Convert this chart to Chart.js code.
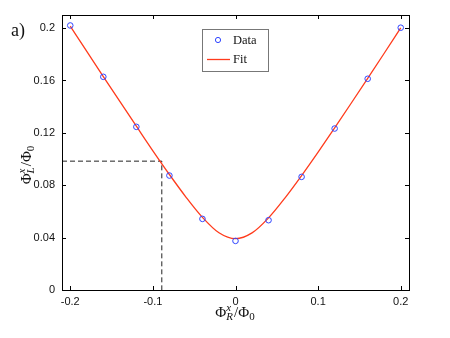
<!DOCTYPE html>
<html>
<head>
<meta charset="utf-8">
<script src="https://cdn.jsdelivr.net/npm/chart.js@4/dist/chart.umd.min.js"></script>
<style>
  html, body { margin: 0; padding: 0; background: #fff; }
  #wrap { width: 450px; height: 338px; position: relative; }
</style>
</head>
<body>
<div id="wrap"><canvas id="fluxChart" width="450" height="338"></canvas></div>
<script>
// measured points
const dataX = [-0.2, -0.16, -0.12, -0.08, -0.04, 0, 0.04, 0.08, 0.12, 0.16, 0.2];
const dataY = [0.202, 0.1628, 0.1246, 0.0874, 0.0543, 0.0375, 0.0533, 0.0864, 0.1233, 0.1613, 0.2003];

// fit curve
const fitX = [-0.2, -0.18, -0.16, -0.14, -0.12, -0.1, -0.08, -0.06, -0.04, -0.02, 0,
              0.02, 0.04, 0.06, 0.08, 0.1, 0.12, 0.14, 0.16, 0.18, 0.2];
const fitY = [0.2015, 0.1822, 0.163, 0.144, 0.1251, 0.1063, 0.0882, 0.071, 0.0555, 0.0437, 0.0392,
              0.0436, 0.0551, 0.0704, 0.0874, 0.1053, 0.1238, 0.1426, 0.1616, 0.1808, 0.2001];

// dashed guide
const guideX = [-0.21, -0.0892, -0.0892];
const guideY = [0.0984, 0.0984, 0];

const xTicks = [-0.2, -0.1, 0, 0.1, 0.2];
const yTicks = [0, 0.04, 0.08, 0.12, 0.16, 0.2];

const seriesLabels = ['Data', 'Fit'];

const toPts = (xs, ys) => xs.map((x, i) => ({ x: x, y: ys[i] }));
const fmt = v => String(+v.toFixed(2));

const BLUE = '#2f45ff';
const RED = '#ff3b1c';
const SERIF = '"Liberation Serif", "DejaVu Serif", serif';

// draws Φ with super/sub scripts, pieces laid out left to right
function drawMathLabel(ctx, x, y, sub, size) {
  const big = size + 'px ' + SERIF;
  const small = Math.round(size * 0.72) + 'px ' + SERIF;
  const smallIt = 'italic ' + small;
  ctx.font = big;
  const wPhi = ctx.measureText('\u03A6').width;
  ctx.font = smallIt;
  const wScript = Math.max(ctx.measureText('x').width, ctx.measureText(sub).width);
  ctx.font = big;
  const wSlash = ctx.measureText('/\u03A6').width;
  ctx.font = small;
  const wZero = ctx.measureText('0').width;
  const total = wPhi + wScript + 1 + wSlash + wZero;
  let cx = x - total / 2;
  ctx.textBaseline = 'alphabetic';
  ctx.textAlign = 'left';
  ctx.font = big;
  ctx.fillText('\u03A6', cx, y);
  cx += wPhi;
  ctx.font = smallIt;
  ctx.fillText('x', cx, y - size * 0.42);
  ctx.fillText(sub, cx, y + size * 0.22);
  cx += wScript + 1;
  ctx.font = big;
  ctx.fillText('/\u03A6', cx, y);
  cx += wSlash;
  ctx.font = small;
  ctx.fillText('0', cx, y + size * 0.22);
}

const matlabFrame = {
  id: 'matlabFrame',
  afterDraw(chart) {
    const ctx = chart.ctx;
    const a = chart.chartArea;
    const xs = chart.scales.x, ys = chart.scales.y;
    ctx.save();
    ctx.strokeStyle = '#000';
    ctx.lineWidth = 1;
    ctx.strokeRect(Math.round(a.left) + 0.5, Math.round(a.top) + 0.5,
      Math.round(a.right - a.left), Math.round(a.bottom - a.top));
    // inward ticks on all four sides
    const len = 4;
    ctx.beginPath();
    xTicks.forEach(v => {
      const px = Math.round(xs.getPixelForValue(v)) + 0.5;
      ctx.moveTo(px, a.bottom); ctx.lineTo(px, a.bottom - len);
      ctx.moveTo(px, a.top); ctx.lineTo(px, a.top + len);
    });
    yTicks.forEach(v => {
      const py = Math.round(ys.getPixelForValue(v)) + 0.5;
      ctx.moveTo(a.left, py); ctx.lineTo(a.left + len, py);
      ctx.moveTo(a.right, py); ctx.lineTo(a.right - len, py);
    });
    ctx.stroke();

    // legend box
    const lx = 202, ly = 29, lw = 66, lh = 42;
    ctx.fillStyle = '#fff';
    ctx.fillRect(lx, ly, lw, lh);
    ctx.strokeStyle = '#777';
    ctx.strokeRect(lx + 0.5, ly + 0.5, lw, lh);
    ctx.strokeStyle = BLUE;
    ctx.beginPath();
    ctx.arc(lx + 16, ly + 11, 2.6, 0, Math.PI * 2);
    ctx.stroke();
    ctx.strokeStyle = RED;
    ctx.lineWidth = 1.3;
    ctx.beginPath();
    ctx.moveTo(lx + 5, ly + 30.5); ctx.lineTo(lx + 28, ly + 30.5);
    ctx.stroke();
    ctx.fillStyle = '#111';
    ctx.font = '12.5px ' + SERIF;
    ctx.textAlign = 'left';
    ctx.textBaseline = 'middle';
    ctx.fillText(seriesLabels[0], lx + 31, ly + 12);
    ctx.fillText(seriesLabels[1], lx + 31, ly + 31);

    // axis titles and panel label
    ctx.fillStyle = '#111';
    drawMathLabel(ctx, 235, 317, 'R', 15);
    ctx.save();
    ctx.translate(31, 165);
    ctx.rotate(-Math.PI / 2);
    drawMathLabel(ctx, 0, 0, 'L', 15);
    ctx.restore();
    ctx.font = '18px ' + SERIF;
    ctx.textAlign = 'left';
    ctx.textBaseline = 'alphabetic';
    ctx.fillText('a)', 11, 36);
    ctx.restore();
  }
};

const tickFont = { family: '"Liberation Sans", Arial, sans-serif', size: 11 };

new Chart(document.getElementById('fluxChart').getContext('2d'), {
  type: 'scatter',
  data: {
    datasets: [
      {
        label: seriesLabels[0],
        data: toPts(dataX, dataY),
        showLine: false,
        pointStyle: 'circle',
        pointRadius: 2.8,
        pointBorderWidth: 1,
        pointBorderColor: BLUE,
        pointBackgroundColor: 'rgba(0,0,0,0)',
        order: 1
      },
      {
        label: seriesLabels[1],
        data: toPts(fitX, fitY),
        showLine: true,
        borderColor: RED,
        borderWidth: 1.3,
        pointRadius: 0,
        cubicInterpolationMode: 'monotone',
        order: 2
      },
      {
        label: 'guide',
        data: toPts(guideX, guideY),
        showLine: true,
        borderColor: '#222',
        borderWidth: 1,
        borderDash: [5, 3],
        pointRadius: 0,
        order: 3
      }
    ]
  },
  options: {
    responsive: false,
    animation: false,
    layout: { padding: { top: 15, right: 41, left: 0, bottom: 0 } },
    plugins: { legend: { display: false }, tooltip: { enabled: false } },
    scales: {
      x: {
        type: 'linear',
        min: -0.21,
        max: 0.21,
        afterBuildTicks: s => { s.ticks = xTicks.map(v => ({ value: v })); },
        afterFit: s => { s.height = 48; },
        grid: { display: false, drawTicks: false },
        border: { display: false },
        ticks: { font: tickFont, color: '#111', padding: 5, maxRotation: 0, callback: v => fmt(v) }
      },
      y: {
        type: 'linear',
        min: 0,
        max: 0.21,
        afterBuildTicks: s => { s.ticks = yTicks.map(v => ({ value: v })); },
        afterFit: s => { s.width = 62; },
        grid: { display: false, drawTicks: false },
        border: { display: false },
        ticks: { font: tickFont, color: '#111', padding: 7, callback: v => fmt(v) }
      }
    }
  },
  plugins: [matlabFrame]
});
</script>
</body>
</html>
